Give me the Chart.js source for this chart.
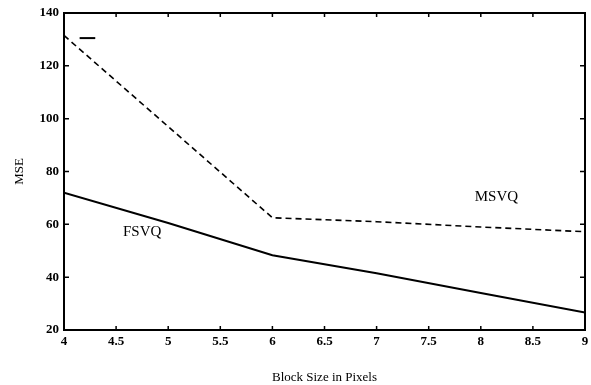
<!DOCTYPE html>
<html>
<head>
  <meta charset="utf-8">
  <title>MSE vs Block Size</title>
  <script src="https://cdn.jsdelivr.net/npm/chart.js@4.4.0/dist/chart.umd.min.js"></script>
  <style>
    html, body { margin: 0; padding: 0; background: #fff; }
    #wrap { width: 591px; height: 385px; }
  </style>
</head>
<body>
  <div id="wrap"><canvas id="myChart" width="591" height="385"></canvas></div>
  <script>
    // values
    const blockSizes = [4, 5, 6, 7, 8, 9];
    const fsvq = [72, 60.5, 48.3, 41.5, 34, 26.6];
    const msvq = [131.5, 97, 62.5, 61, 59, 57.2];
    const xTicks = [4, 4.5, 5, 5.5, 6, 6.5, 7, 7.5, 8, 8.5, 9];
    const yTicks = [20, 40, 60, 80, 100, 120, 140];
    // stray legend dash at the top left
    const dashX = [4.15, 4.3];
    const dashY = [130.5, 130.5];
    // curve labels
    const labelNames = ['MSVQ', 'FSVQ'];
    const labelX = [8.15, 4.75];
    const labelY = [70.3, 57];

    const serif = '"Liberation Serif", "DejaVu Serif", serif';

    // box round the plot + little inward ticks + curve names
    const frame = {
      id: 'frame',
      afterDraw(chart) {
        const ctx = chart.ctx, a = chart.chartArea;
        const xs = chart.scales.x, ys = chart.scales.y;
        ctx.save();
        ctx.strokeStyle = '#000';
        ctx.lineWidth = 2;
        ctx.strokeRect(a.left, a.top, a.right - a.left, a.bottom - a.top);
        ctx.lineWidth = 1.5;
        ctx.beginPath();
        xTicks.forEach(v => {
          const px = xs.getPixelForValue(v);
          ctx.moveTo(px, a.bottom); ctx.lineTo(px, a.bottom - 4);
          ctx.moveTo(px, a.top); ctx.lineTo(px, a.top + 4);
        });
        yTicks.forEach(v => {
          const py = ys.getPixelForValue(v);
          ctx.moveTo(a.left, py); ctx.lineTo(a.left + 5, py);
          ctx.moveTo(a.right, py); ctx.lineTo(a.right - 5, py);
        });
        ctx.stroke();
        ctx.fillStyle = '#000';
        ctx.font = '15px ' + serif;
        ctx.textAlign = 'center';
        ctx.textBaseline = 'middle';
        labelNames.forEach((t, i) => {
          ctx.fillText(t, xs.getPixelForValue(labelX[i]), ys.getPixelForValue(labelY[i]));
        });
        ctx.restore();
      }
    };

    const toPts = (xa, ya) => xa.map((x, i) => ({ x: x, y: ya[i] }));

    new Chart(document.getElementById('myChart'), {
      type: 'line',
      data: {
        datasets: [{
          label: 'MSVQ',
          data: toPts(blockSizes, msvq),
          borderColor: '#000',
          borderWidth: 1.6,
          borderDash: [6, 4],
          pointRadius: 0,
          tension: 0
        }, {
          label: 'FSVQ',
          data: toPts(blockSizes, fsvq),
          borderColor: '#000',
          borderWidth: 2,
          pointRadius: 0,
          tension: 0
        }, {
          label: 'mark',
          data: toPts(dashX, dashY),
          borderColor: '#000',
          borderWidth: 2,
          pointRadius: 0
        }]
      },
      options: {
        responsive: false,
        animation: false,
        layout: { padding: { top: 13, right: 0, left: 0, bottom: 0 } },
        plugins: { legend: { display: false }, tooltip: { enabled: false } },
        scales: {
          x: {
            type: 'linear',
            min: 4, max: 9,
            afterBuildTicks: s => { s.ticks = xTicks.map(v => ({ value: v })); },
            afterFit: s => { s.height = 55; s.paddingRight = 6; },
            grid: { display: false, drawTicks: false },
            border: { display: false },
            ticks: {
              color: '#000',
              padding: 4,
              autoSkip: false,
              maxRotation: 0,
              callback: v => String(v),
              font: { family: serif, size: 13, weight: 'bold' }
            },
            title: {
              display: true,
              text: 'Block Size in Pixels',
              color: '#000',
              padding: { top: 18, bottom: 0 },
              font: { family: serif, size: 13 }
            }
          },
          y: {
            type: 'linear',
            min: 20, max: 140,
            afterBuildTicks: s => { s.ticks = yTicks.map(v => ({ value: v })); },
            afterFit: s => { s.width = 64; },
            grid: { display: false, drawTicks: false },
            border: { display: false },
            ticks: {
              color: '#000',
              padding: 5,
              font: { family: serif, size: 13, weight: 'bold' }
            },
            title: {
              display: true,
              text: 'MSE',
              color: '#000',
              padding: { top: 12, bottom: 0 },
              font: { family: serif, size: 13 }
            }
          }
        }
      },
      plugins: [frame]
    });
  </script>
</body>
</html>
